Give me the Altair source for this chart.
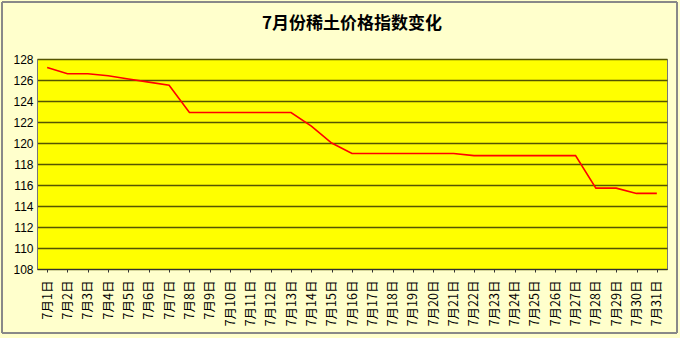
import altair as alt
import pandas as pd

days = [f"7月{i}日" for i in range(1, 32)]
values = [127.2, 126.6, 126.6, 126.4, 126.1, 125.8, 125.5, 122.9, 122.9, 122.9,
          122.9, 122.9, 122.9, 121.6, 120.0, 119.0, 119.0, 119.0, 119.0, 119.0,
          119.0, 118.8, 118.8, 118.8, 118.8, 118.8, 118.8, 115.7, 115.7, 115.2,
          115.2]
y_ticks = list(range(108, 129, 2))

df = pd.DataFrame({"day": days, "value": values})

font = "Noto Sans CJK SC"

line = alt.Chart(df).mark_line(color="#ff0000", strokeWidth=1.6).encode(
    x=alt.X("day:N", sort=days, title=None,
            scale=alt.Scale(paddingInner=0, paddingOuter=0),
            axis=alt.Axis(labelAngle=-90, labelFont=font, labelFontSize=12.5,
                          labelColor="#000000", labelPadding=8, labelAlign="right",
                          labelBaseline="middle",
                          domainColor="#333333", tickColor="#333333", tickSize=3,
                          bandPosition=0, grid=False)),
    y=alt.Y("value:Q", title=None,
            scale=alt.Scale(domain=[108, 128], nice=False, zero=False),
            axis=alt.Axis(values=y_ticks, labelFont="Liberation Sans", labelFontSize=12,
                          labelColor="#000000", ticks=False, labelPadding=4,
                          domainColor="#777777",
                          gridColor="#555500", gridWidth=1.6, gridOpacity=1)),
)

frame = alt.Chart(df).mark_rect(fill=None, stroke="#888888", strokeWidth=1).encode(
    x=alt.value(-35), x2=alt.value(640), y=alt.value(-57), y2=alt.value(274)
)

chart = alt.layer(line, frame).properties(
    width=630,
    height=210,
    title=alt.TitleParams("7月份稀土价格指数变化", font=font, fontSize=17,
                          fontWeight="bold", color="#000000", anchor="middle",
                          offset=-31),
    autosize=alt.AutoSizeParams(type="none"),
    padding={"left": 37, "top": 59, "right": 13, "bottom": 69},
    background="#ffffcc",
).configure_view(
    fill="#ffff00", stroke="#777777", strokeWidth=1
)

chart.save("out.html", embed_options={"renderer": "svg", "actions": False})
